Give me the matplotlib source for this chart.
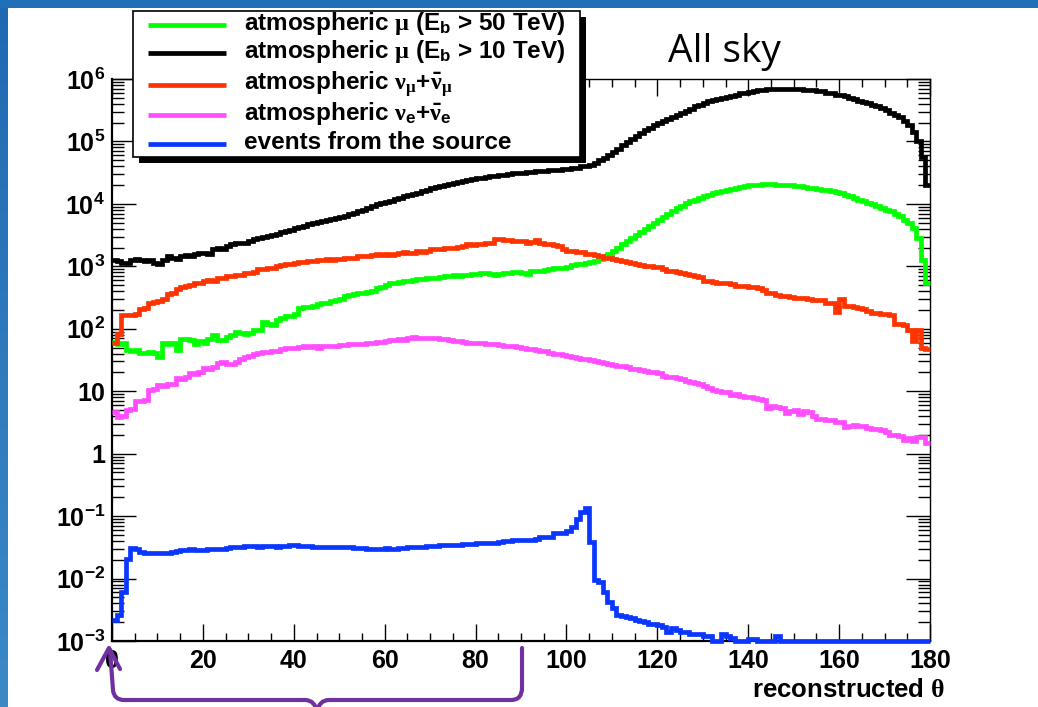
import numpy as np
import matplotlib
matplotlib.use("Agg")
import matplotlib.pyplot as plt
from matplotlib.ticker import FixedLocator, MultipleLocator, FuncFormatter, NullFormatter
from matplotlib.patches import Rectangle, PathPatch
from matplotlib.path import Path

# ---------------------------------------------------------------------------
# Histogram contents: 1-degree bins in reconstructed theta, 0..180 deg.
# Atmospheric backgrounds are stored as log10(events per bin).
# ---------------------------------------------------------------------------
theta_edges = np.arange(0, 181, 1)

mu50_log10 = [
    1.79, 1.75, 1.77, 1.66, 1.64, 1.66, 1.62, 1.62, 1.63, 1.62,
    1.55, 1.77, 1.76, 1.77, 1.66, 1.84, 1.83, 1.82, 1.76, 1.80,
    1.78, 1.84, 1.90, 1.82, 1.82, 1.87, 1.90, 1.95, 1.94, 1.91,
    1.93, 1.98, 1.98, 2.11, 2.08, 2.06, 2.14, 2.17, 2.20, 2.21,
    2.23, 2.33, 2.35, 2.35, 2.36, 2.40, 2.41, 2.42, 2.45, 2.46,
    2.48, 2.53, 2.54, 2.56, 2.57, 2.57, 2.59, 2.60, 2.66, 2.67,
    2.70, 2.73, 2.74, 2.75, 2.76, 2.76, 2.78, 2.80, 2.80, 2.81,
    2.82, 2.82, 2.83, 2.84, 2.85, 2.86, 2.85, 2.86, 2.86, 2.87,
    2.87, 2.90, 2.90, 2.87, 2.86, 2.88, 2.90, 2.90, 2.91, 2.91,
    2.89, 2.88, 2.92, 2.93, 2.93, 2.94, 2.95, 2.97, 2.97, 2.98,
    2.99, 3.02, 3.03, 3.04, 3.05, 3.07, 3.09, 3.12, 3.15, 3.20,
    3.25, 3.30, 3.35, 3.40, 3.45, 3.50, 3.55, 3.60, 3.64, 3.69,
    3.74, 3.79, 3.84, 3.88, 3.93, 3.97, 4.01, 4.04, 4.07, 4.10,
    4.13, 4.15, 4.17, 4.19, 4.21, 4.23, 4.24, 4.26, 4.27, 4.29,
    4.30, 4.31, 4.31, 4.32, 4.32, 4.32, 4.31, 4.31, 4.30, 4.30,
    4.29, 4.28, 4.27, 4.26, 4.25, 4.24, 4.23, 4.22, 4.20, 4.19,
    4.17, 4.15, 4.12, 4.10, 4.07, 4.05, 4.02, 4.00, 3.97, 3.94,
    3.91, 3.88, 3.84, 3.80, 3.75, 3.69, 3.62, 3.45, 3.10, 2.73,
]

mu10_log10 = [
    3.10, 3.08, 3.05, 3.05, 3.10, 3.12, 3.10, 3.08, 3.10, 3.05,
    3.04, 3.10, 3.16, 3.14, 3.12, 3.17, 3.18, 3.16, 3.20, 3.21,
    3.22, 3.20, 3.27, 3.30, 3.28, 3.33, 3.35, 3.37, 3.38, 3.38,
    3.40, 3.43, 3.45, 3.47, 3.48, 3.50, 3.52, 3.55, 3.57, 3.58,
    3.61, 3.63, 3.65, 3.67, 3.69, 3.71, 3.72, 3.74, 3.76, 3.77,
    3.79, 3.81, 3.84, 3.86, 3.88, 3.90, 3.93, 3.96, 4.00, 4.01,
    4.03, 4.05, 4.08, 4.10, 4.12, 4.14, 4.16, 4.18, 4.21, 4.23,
    4.25, 4.27, 4.28, 4.30, 4.32, 4.33, 4.35, 4.37, 4.38, 4.40,
    4.41, 4.42, 4.43, 4.44, 4.45, 4.46, 4.47, 4.48, 4.49, 4.49,
    4.50, 4.51, 4.51, 4.52, 4.53, 4.53, 4.54, 4.55, 4.55, 4.56,
    4.56, 4.57, 4.58, 4.60, 4.61, 4.63, 4.66, 4.70, 4.74, 4.78,
    4.83, 4.88, 4.94, 4.99, 5.04, 5.09, 5.13, 5.18, 5.22, 5.26,
    5.29, 5.33, 5.36, 5.39, 5.42, 5.45, 5.49, 5.52, 5.56, 5.59,
    5.62, 5.64, 5.66, 5.68, 5.70, 5.71, 5.73, 5.75, 5.77, 5.78,
    5.79, 5.80, 5.82, 5.83, 5.84, 5.84, 5.84, 5.84, 5.84, 5.84,
    5.84, 5.84, 5.83, 5.83, 5.82, 5.81, 5.80, 5.78, 5.77, 5.75,
    5.74, 5.72, 5.70, 5.68, 5.65, 5.63, 5.61, 5.58, 5.56, 5.53,
    5.50, 5.46, 5.43, 5.39, 5.33, 5.26, 5.15, 5.00, 4.75, 4.30,
]

numu_log10 = [
    1.77, 1.92, 2.22, 2.22, 2.22, 2.24, 2.32, 2.34, 2.42, 2.43,
    2.44, 2.48, 2.56, 2.58, 2.64, 2.67, 2.68, 2.70, 2.73, 2.74,
    2.76, 2.78, 2.77, 2.81, 2.82, 2.84, 2.85, 2.86, 2.86, 2.89,
    2.90, 2.91, 2.95, 2.96, 2.97, 2.98, 3.01, 3.02, 3.03, 3.04,
    3.06, 3.07, 3.07, 3.08, 3.09, 3.10, 3.10, 3.11, 3.10, 3.11,
    3.12, 3.13, 3.13, 3.14, 3.16, 3.17, 3.17, 3.18, 3.19, 3.18,
    3.19, 3.18, 3.20, 3.22, 3.23, 3.22, 3.21, 3.24, 3.23, 3.25,
    3.27, 3.28, 3.28, 3.29, 3.29, 3.30, 3.31, 3.33, 3.35, 3.34,
    3.35, 3.36, 3.38, 3.37, 3.44, 3.43, 3.42, 3.42, 3.41, 3.40,
    3.41, 3.38, 3.39, 3.42, 3.38, 3.36, 3.35, 3.34, 3.32, 3.28,
    3.25, 3.24, 3.23, 3.23, 3.20, 3.19, 3.18, 3.16, 3.14, 3.13,
    3.12, 3.10, 3.08, 3.07, 3.06, 3.04, 3.02, 3.01, 3.00, 2.99,
    2.99, 2.96, 2.93, 2.92, 2.91, 2.90, 2.88, 2.86, 2.84, 2.83,
    2.77, 2.76, 2.75, 2.74, 2.73, 2.73, 2.72, 2.69, 2.69, 2.68,
    2.67, 2.67, 2.66, 2.62, 2.57, 2.58, 2.54, 2.53, 2.53, 2.51,
    2.49, 2.49, 2.50, 2.48, 2.46, 2.46, 2.46, 2.42, 2.42, 2.27,
    2.47, 2.37, 2.36, 2.35, 2.34, 2.31, 2.28, 2.25, 2.25, 2.24,
    2.24, 2.22, 2.08, 2.07, 2.06, 1.98, 1.80, 1.98, 1.70, 1.68,
]

nue_log10 = [
    0.67, 0.58, 0.60, 0.70, 0.72, 0.84, 0.85, 0.86, 1.02, 1.03,
    1.10, 1.09, 1.11, 1.12, 1.21, 1.20, 1.22, 1.29, 1.28, 1.30,
    1.37, 1.36, 1.38, 1.45, 1.46, 1.43, 1.44, 1.46, 1.52, 1.55,
    1.56, 1.60, 1.62, 1.63, 1.63, 1.64, 1.65, 1.68, 1.69, 1.70,
    1.70, 1.71, 1.72, 1.71, 1.72, 1.70, 1.72, 1.73, 1.73, 1.72,
    1.74, 1.74, 1.76, 1.76, 1.75, 1.76, 1.77, 1.78, 1.79, 1.79,
    1.80, 1.82, 1.82, 1.83, 1.82, 1.85, 1.87, 1.86, 1.86, 1.85,
    1.86, 1.85, 1.84, 1.83, 1.82, 1.81, 1.80, 1.79, 1.78, 1.78,
    1.77, 1.77, 1.76, 1.76, 1.75, 1.74, 1.73, 1.72, 1.72, 1.71,
    1.70, 1.68, 1.67, 1.66, 1.65, 1.64, 1.62, 1.60, 1.59, 1.58,
    1.57, 1.55, 1.53, 1.52, 1.51, 1.50, 1.48, 1.47, 1.45, 1.44,
    1.42, 1.41, 1.40, 1.38, 1.36, 1.35, 1.34, 1.32, 1.30, 1.30,
    1.29, 1.25, 1.23, 1.22, 1.21, 1.19, 1.16, 1.14, 1.13, 1.11,
    1.08, 1.05, 1.02, 1.00, 0.99, 0.98, 0.94, 0.95, 0.93, 0.91,
    0.90, 0.89, 0.88, 0.86, 0.73, 0.76, 0.74, 0.73, 0.65, 0.68,
    0.70, 0.63, 0.68, 0.67, 0.60, 0.55, 0.55, 0.54, 0.54, 0.50,
    0.50, 0.42, 0.45, 0.46, 0.45, 0.44, 0.41, 0.40, 0.40, 0.38,
    0.35, 0.30, 0.30, 0.29, 0.22, 0.25, 0.20, 0.27, 0.26, 0.17,
]

# Signal from the source, events per bin (0 = empty bin)
source_counts = [
    0.0022, 0.0026, 0.0060, 0.0204, 0.0309, 0.0295, 0.0269, 0.0257, 0.0257, 0.0257,
    0.0257, 0.0257, 0.0257, 0.0269, 0.0275, 0.0282, 0.0288, 0.0295, 0.0288, 0.0288,
    0.0288, 0.0302, 0.0302, 0.0302, 0.0302, 0.0309, 0.0316, 0.0324, 0.0324, 0.0331,
    0.0331, 0.0331, 0.0324, 0.0331, 0.0331, 0.0331, 0.0324, 0.0331, 0.0331, 0.0339,
    0.0339, 0.0331, 0.0331, 0.0331, 0.0324, 0.0316, 0.0316, 0.0316, 0.0316, 0.0324,
    0.0316, 0.0316, 0.0316, 0.0309, 0.0309, 0.0309, 0.0295, 0.0295, 0.0302, 0.0302,
    0.0309, 0.0295, 0.0295, 0.0309, 0.0309, 0.0316, 0.0316, 0.0324, 0.0324, 0.0331,
    0.0331, 0.0331, 0.0339, 0.0339, 0.0347, 0.0347, 0.0339, 0.0355, 0.0355, 0.0355,
    0.0372, 0.0372, 0.0372, 0.0372, 0.0372, 0.0380, 0.0398, 0.0398, 0.0407, 0.0407,
    0.0417, 0.0417, 0.0417, 0.0427, 0.0460, 0.0460, 0.0460, 0.0540, 0.0540, 0.0540,
    0.0580, 0.0680, 0.0910, 0.1170, 0.1350, 0.0390, 0.0095, 0.0088, 0.0062, 0.0042,
    0.0034, 0.0026, 0.0025, 0.0024, 0.0023, 0.0022, 0.0021, 0.0020, 0.0019, 0.0019,
    0.0018, 0.0017, 0.0014, 0.0016, 0.0015, 0.0014, 0.0014, 0.0013, 0.0013, 0.0013,
    0.0012, 0.0012, 0.0, 0.0, 0.0013, 0.0012, 0.0011, 0.0, 0.0, 0.0,
    0.00106, 0.00106, 0.0, 0.0, 0.0, 0.0, 0.0012, 0.0, 0.0, 0.0,
    0.0, 0.0, 0.0, 0.0, 0.0, 0.0, 0.0, 0.0, 0.0, 0.0,
    0.0, 0.0, 0.0, 0.0, 0.0, 0.0, 0.0, 0.0, 0.0, 0.0,
    0.0, 0.0, 0.0, 0.0, 0.0, 0.0, 0.0, 0.0, 0.0, 0.0,
]

series_labels = [
    r"atmospheric $\mu$ (E$_{\mathrm{b}}$ > 50 TeV)",
    r"atmospheric $\mu$ (E$_{\mathrm{b}}$ > 10 TeV)",
    r"atmospheric $\nu_{\mu}$+$\bar{\nu}_{\mu}$",
    r"atmospheric $\nu_{\mathrm{e}}$+$\bar{\nu}_{\mathrm{e}}$",
    "events from the source",
]
series_colors = ["#00ff00", "#000000", "#ff3300", "#ff4dff", "#0a37ff"]
x_ticks = [0, 20, 40, 60, 80, 100, 120, 140, 160, 180]
x_title = r"reconstructed $\theta$"
panel_title = "All sky"

# ---------------------------------------------------------------------------
plt.rcParams.update({
    "font.family": ["Liberation Sans", "DejaVu Sans"],
    "font.weight": "bold",
    "mathtext.fontset": "custom",
    "mathtext.rm": "Liberation Sans:bold",
    "mathtext.bf": "Liberation Sans:bold",
    "mathtext.it": "Liberation Serif",
    "mathtext.default": "it",
})

W, H = 1038, 707
fig = plt.figure(figsize=(W / 100, H / 100), dpi=100, facecolor="white")

ax_l, ax_r, ax_t, ax_b = 112, 930, 79, 641
ax = fig.add_axes([ax_l / W, 1 - ax_b / H, (ax_r - ax_l) / W, (ax_b - ax_t) / H])
ax.set_facecolor("white")

y_floor = 1e-3
curves = [
    10 ** np.array(mu50_log10),
    10 ** np.array(mu10_log10),
    10 ** np.array(numu_log10),
    10 ** np.array(nue_log10),
    np.clip(np.array(source_counts), y_floor, None),
]
for vals, col in zip(curves, series_colors):
    ax.stairs(vals, theta_edges, baseline=None, color=col, lw=3.4,
              zorder=3, clip_on=False)

ax.set_yscale("log")
ax.set_xlim(0, 180)
ax.set_ylim(1e-3, 1e6)

ax.xaxis.set_major_locator(FixedLocator(x_ticks))
ax.xaxis.set_minor_locator(MultipleLocator(5))
ax.yaxis.set_major_locator(FixedLocator([10.0 ** e for e in range(-3, 7)]))
ax.yaxis.set_minor_locator(FixedLocator(
    [m * 10.0 ** e for e in range(-3, 6) for m in range(2, 10)]))
ax.yaxis.set_minor_formatter(NullFormatter())


def decade_label(v, _pos):
    e = int(round(np.log10(v)))
    if e == 0:
        return "1"
    if e == 1:
        return "10"
    return r"$\mathrm{10^{%d}}$" % e


ax.yaxis.set_major_formatter(FuncFormatter(decade_label))

ax.tick_params(axis="both", which="both", direction="in", top=True, right=True,
               width=1.0, colors="black")
ax.tick_params(axis="x", which="major", length=12, labelsize=18, pad=6)
ax.tick_params(axis="x", which="minor", length=6)
ax.tick_params(axis="y", which="major", length=17, labelsize=18, pad=5)
ax.tick_params(axis="y", which="minor", length=8.5)
for lab in ax.get_xticklabels() + ax.get_yticklabels():
    lab.set_fontweight("bold")

for side in ("left", "bottom"):
    ax.spines[side].set_linewidth(1.6)
for side in ("right", "top"):
    ax.spines[side].set_linewidth(1.0)

ax.set_xlabel(x_title, fontsize=18.5, fontweight="bold", ha="right", va="center")
ax.xaxis.set_label_coords((945 - ax_l) / (ax_r - ax_l), -(690 - ax_b) / (ax_b - ax_t))

# ---------------------------------------------------------------------------
# Overlay in pixel units: slide frame, legend box, title, bracket
ov = fig.add_axes([0, 0, 1, 1], zorder=10)
ov.set_xlim(0, W)
ov.set_ylim(H, 0)
ov.axis("off")
ov.patch.set_alpha(0)

grad = np.linspace(0, 1, 256)[:, None]
frame_cmap = matplotlib.colors.LinearSegmentedColormap.from_list(
    "frame", ["#1f69b3", "#2e7abd", "#3c89c6"])
ov.imshow(grad, cmap=frame_cmap, extent=(0, 8, H, 0), aspect="auto", zorder=1)
ov.add_patch(Rectangle((0, 0), W, 8, color="#1f70b8", lw=0, zorder=1))

# legend box with ROOT-style shadow
lx0, ly0, lx1, ly1 = 133, 11, 580, 157
ov.add_patch(Rectangle((lx0 + 6, ly0 + 6), lx1 - lx0, ly1 - ly0,
                       facecolor="black", edgecolor="none", zorder=2))
ov.add_patch(Rectangle((lx0, ly0), lx1 - lx0, ly1 - ly0,
                       facecolor="white", edgecolor="black", lw=1.2, zorder=3))
row_y = [25, 53, 85, 115, 144]
for yy, lab, col in zip(row_y, series_labels, series_colors):
    ov.plot([148, 226], [yy, yy], color=col, lw=3.4, solid_capstyle="butt", zorder=4)
    ov.text(244, yy + 5, lab, fontsize=17.5, fontweight="bold", ha="left",
            va="baseline", zorder=4)

ov.text(668, 62, panel_title, fontsize=28, family="Open Sans",
        fontweight="normal", ha="left", va="baseline", zorder=4)

# purple curly bracket under the x axis with an arrow at theta = 0
purple = "#7030a0"
verts = [
    (110, 650), (113, 690), (114, 700), (124, 700),
    (305, 700), (315, 700), (317, 712),
    (319, 700), (329, 700),
    (511, 700), (522, 700), (522, 688),
    (522, 648),
]
codes = [
    Path.MOVETO, Path.LINETO, Path.CURVE3, Path.CURVE3,
    Path.LINETO, Path.CURVE3, Path.CURVE3,
    Path.CURVE3, Path.CURVE3,
    Path.LINETO, Path.CURVE3, Path.CURVE3,
    Path.LINETO,
]
ov.add_patch(PathPatch(Path(verts, codes), facecolor="none", edgecolor=purple,
                       lw=3.0, capstyle="round", joinstyle="round", zorder=5))
ov.plot([97, 109, 120], [670, 648, 669], color=purple, lw=3.0,
        solid_capstyle="round", solid_joinstyle="round", zorder=5)

fig.savefig("out.png", dpi=100, facecolor="white")
